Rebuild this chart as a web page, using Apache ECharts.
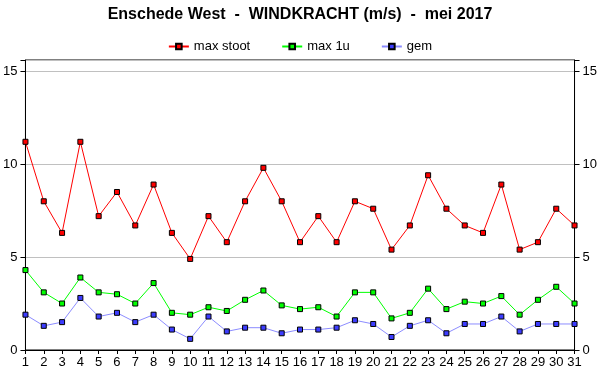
<!DOCTYPE html>
<html><head><meta charset="utf-8">
<script src="https://cdn.jsdelivr.net/npm/echarts@6/dist/echarts.min.js"></script>
<style>html,body{margin:0;padding:0;background:#fff}#c{width:600px;height:390px}</style>
</head><body><div id="c"></div>
<script>
var days = ['1','2','3','4','5','6','7','8','9','10','11','12','13','14','15','16','17','18','19','20','21','22','23','24','25','26','27','28','29','30','31'];
var maxStoot = [11.2,8.0,6.3,11.2,7.2,8.5,6.7,8.9,6.3,4.9,7.2,5.8,8.0,9.8,8.0,5.8,7.2,5.8,8.0,7.6,5.4,6.7,9.4,7.6,6.7,6.3,8.9,5.4,5.8,7.6,6.7];
var max1u = [4.3,3.1,2.5,3.9,3.1,3.0,2.5,3.6,2.0,1.9,2.3,2.1,2.7,3.2,2.4,2.2,2.3,1.8,3.1,3.1,1.7,2.0,3.3,2.2,2.6,2.5,2.9,1.9,2.7,3.4,2.5];
var gem = [1.9,1.3,1.5,2.8,1.8,2.0,1.5,1.9,1.1,0.6,1.8,1.0,1.2,1.2,0.9,1.1,1.1,1.2,1.6,1.4,0.7,1.3,1.6,0.9,1.4,1.4,1.8,1.0,1.4,1.4,1.4];
var yTicks = [0,5,10,15];

var font = 'Arial, "Liberation Sans", sans-serif';
function yAxisDef(pos){
  return {
    type:'value', position:pos, min:0, max:15.6, interval:5,
    axisLine:{show:true,lineStyle:{color:'#000',width:1}},
    axisTick:{show:true,length:5,lineStyle:{color:'#000'}},
    axisLabel:{color:'#000',fontSize:13,fontFamily:font,margin:8,
      formatter:function(v){return yTicks.indexOf(v)>=0? String(v):'';}},
    splitLine:{show:pos==='left',lineStyle:{color:'#c0c0c0',width:1}}
  };
}
function ser(name,data,lineColor,markColor){
  return {name:name,type:'line',data:data,symbol:'rect',symbolSize:5,showAllSymbol:true,
    lineStyle:{color:lineColor,width:1},
    itemStyle:{color:markColor,borderColor:'#000',borderWidth:1},
    emphasis:{disabled:true},animation:false,z:3};
}
var chart = echarts.init(document.getElementById('c'),null,{renderer:'canvas'});
chart.setOption({
  animation:false,
  backgroundColor:'#fff',
  title:{text:'Enschede West  -  WINDKRACHT (m/s)  -  mei 2017',left:'center',top:2,
    textStyle:{fontSize:16,fontWeight:'bold',color:'#000',fontFamily:font}},
  legend:{top:35,left:'center',itemWidth:20,itemHeight:7,itemGap:31,
    textStyle:{fontSize:13,color:'#000',fontFamily:font},
    data:['max stoot','max 1u','gem']},
  grid:{left:25,right:25,top:60,bottom:40,show:true,borderColor:'#000',borderWidth:1},
  xAxis:{type:'category',data:days,boundaryGap:false,
    axisLine:{lineStyle:{color:'#000'}},
    axisTick:{show:true,length:4,alignWithLabel:true,lineStyle:{color:'#000'}},
    axisLabel:{color:'#000',fontSize:13,fontFamily:font,margin:6,interval:0},
    splitLine:{show:false}},
  yAxis:[yAxisDef('left'),yAxisDef('right')],
  series:[
    ser('max stoot',maxStoot,'#ff0000','#ff0000'),
    ser('max 1u',max1u,'#00ff00','#00ff00'),
    ser('gem',gem,'#8c8cff','#3c3cff')
  ]
});
</script></body></html>
